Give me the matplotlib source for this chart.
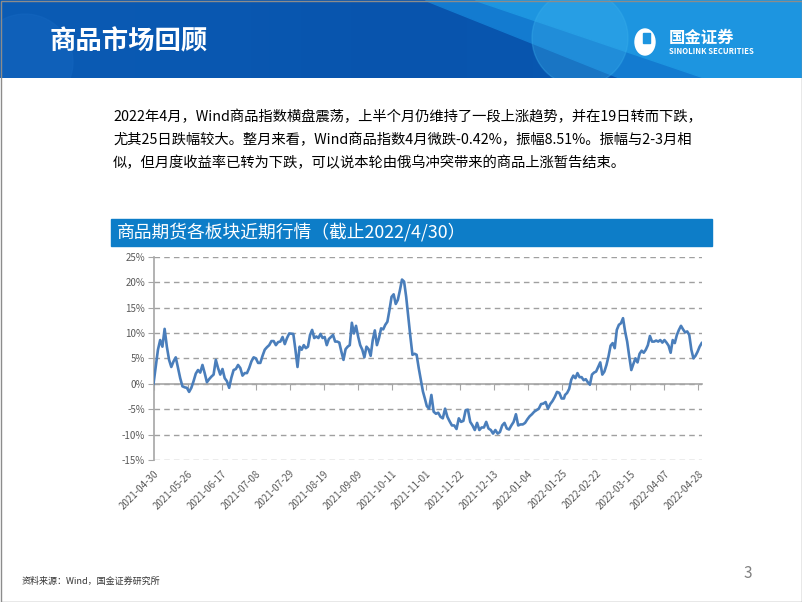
import numpy as np
import matplotlib.pyplot as plt
from matplotlib.patches import Rectangle, Polygon, Circle, Ellipse
from matplotlib.colors import LinearSegmentedColormap

plt.rcParams['font.family'] = ['Noto Sans CJK SC', 'DejaVu Sans']

# ---- data (Wind commodity index, cumulative return %)
tick_labels = ['2021-04-30', '2021-05-26', '2021-06-17', '2021-07-08', '2021-07-29',
               '2021-08-19', '2021-09-09', '2021-10-11', '2021-11-01', '2021-11-22',
               '2021-12-13', '2022-01-04', '2022-01-25', '2022-02-22', '2022-03-15',
               '2022-04-07', '2022-04-28']
tick_step = 15  # trading days between labels

# traced pieces of the line, each with the first/last trading day it covers
trace_1 = [0, 3.4, 6.7, 8.6, 7.3, 10.8, 7.3, 4.7, 3.3, 4.4, 5.2, 3.1, 1.1, -0.5, -0.7,
           -0.8, -1.6, -0.8, 0.5, 2.0, 2.7, 2.2, 3.7, 2.1, 0.3, 0.9, 1.4, 1.8, 4.7, 3.1,
           1.8, 2.9, 1.1, 0.5, -0.8, 1.2, 2.7, 2.9, 3.7, 3.1, 1.6, 2.1, 2.1, 3.1, 4.4,
           5.2, 5.0, 4.1, 4.1, 5.5, 6.7, 7.2, 7.6, 8.4, 8.4, 7.6, 8.2, 8.3, 9.2, 7.8,
           9.0, 9.9]
trace_2 = [9.8, 6.7, 3.3, 7.3, 6.7, 7.6, 7.0, 7.3, 9.6, 10.6, 9.0, 9.3, 9.0, 9.8, 9.0,
           9.2, 7.6, 8.8, 9.2, 9.6, 8.3, 8.3, 8.1, 6.3, 4.7, 6.8, 7.3, 7.6, 12.0, 9.9,
           11.4, 9.3, 7.6, 6.7, 5.2, 7.3, 6.8, 5.5, 8.6, 10.5, 7.6, 9.0, 10.9, 10.7,
           11.6, 12.2, 14.5, 17.1, 17.6, 15.7, 16.5, 18.4, 20.5, 20.1, 17.1, 13.2, 9.3,
           5.7, 5.9, 5.7, 3.1, 0.8, -1.5, -3.0]
trace_3 = [-4.4, -4.9, -2.2, -5.5, -5.9, -5.7, -6.5, -6.8, -4.9, -6.5, -7.4, -8.2, -8.2,
           -8.9, -6.8, -7.5, -7.3, -5.2, -5.1, -7.5, -8.2, -9.1, -7.7, -9.1, -8.6, -8.6,
           -7.5, -8.8, -9.1, -9.8, -9.1, -9.8, -9.5, -8.2, -7.7, -8.8, -9.0, -8.2, -7.5,
           -6.0, -8.2, -8.0, -8.0, -7.7, -7.0, -6.4, -6.0, -5.5, -5.2, -4.9, -4.0, -3.9,
           -3.6, -4.9, -4.0, -3.4, -2.6, -1.6, -1.8, -2.9, -2.9]
trace_4 = [-2.2, -1.8, -1.0, 0.8, 1.6, 1.1, 2.1, 1.3, 1.3, 0.7, 0.9, 0.3, -0.2, 1.8, 2.2,
           2.4, 3.3, 4.2, 1.8, 2.4, 3.7, 5.4, 7.5, 8.0, 7.0, 10.6, 11.6, 11.9, 12.9, 10.3,
           8.3, 5.4, 2.7, 3.9, 5.0, 4.2, 5.9, 6.5, 6.1, 6.7, 7.6, 9.4, 8.3, 8.3, 8.5,
           8.3, 8.6, 8.1, 8.6, 8.1, 7.5, 6.1, 8.6, 8.0, 9.6, 10.6, 11.4, 10.7, 10.1,
           10.3, 9.6, 6.7, 5.0, 5.5, 6.3, 7.3, 8.0]
trace_days = [(0, 59.8), (61.6, 119.6), (120.4, 180.8), (181.3, 241.5)]

y_ticks = [-15, -10, -5, 0, 5, 10, 15, 20, 25]

page_title = '商品市场回顾'
body_lines = ['2022年4月，Wind商品指数横盘震荡，上半个月仍维持了一段上涨趋势，并在19日转而下跌，',
              '尤其25日跌幅较大。整月来看，Wind商品指数4月微跌-0.42%，振幅8.51%。振幅与2-3月相',
              '似，但月度收益率已转为下跌，可以说本轮由俄乌冲突带来的商品上涨暂告结束。']
chart_title = '商品期货各板块近期行情（截止2022/4/30）'
source_note = '资料来源：Wind，国金证券研究所'

fig = plt.figure(figsize=(8.02, 6.02), dpi=100)
fig.patch.set_facecolor('white')

# ---- slide background / decorations in pixel coords
bg = fig.add_axes([0, 0, 1, 1], zorder=0)
bg.set_xlim(0, 802)
bg.set_ylim(602, 0)
grad = np.linspace(0, 1, 256).reshape(1, -1)
hdr_cmap = LinearSegmentedColormap.from_list('hdr', ['#0b5cb5', '#0854ad', '#0a5ab3'])
bg.imshow(grad, extent=[0, 802, 78, 0], cmap=hdr_cmap, aspect='auto', zorder=0)
bg.set_xlim(0, 802)
bg.set_ylim(602, 0)
hdr_clip = Rectangle((0, 0), 802, 78, transform=bg.transData)
shapes = [Circle((25, 62), 48, color='#1466bf', alpha=0.5, zorder=1),
          Polygon([(425, 0), (802, 0), (802, 78), (620, 78)], color='#137bd0', zorder=1),
          Polygon([(475, 0), (802, 0), (802, 78), (705, 78)], color='#1d95e0', zorder=1),
          Circle((580, 38), 48, color='#3ab0ec', alpha=0.35, zorder=2)]
for p in shapes:
    bg.add_patch(p)
    p.set_clip_path(hdr_clip)
bg.text(50, 42, page_title, color='white', fontsize=19, fontweight='bold',
        va='center', ha='left', zorder=5)
# logo
bg.add_patch(Ellipse((645, 42), 20, 26, color='white', zorder=5))
bg.add_patch(Rectangle((643, 33), 7, 10, color='#1d95e0', zorder=6))
bg.text(669, 38, '国金证券', color='white', fontsize=11.8, fontweight='bold',
        va='center', ha='left', zorder=5)
bg.text(669, 52, 'SINOLINK SECURITIES', color='white', fontsize=5.6, fontweight='bold',
        va='center', ha='left', zorder=5)

# body text
for i, line in enumerate(body_lines):
    bg.text(113, 117 + i * 23, line, fontsize=10.3, color='black', va='center', ha='left')

# chart title bar
bg.add_patch(Rectangle((111, 219), 601, 27, color='#0d7dc8', zorder=1))
bg.text(117, 232.5, chart_title, color='white', fontsize=12.8, va='center', ha='left', zorder=2)

# footer
bg.text(22, 581, source_note, fontsize=6.5, color='#333333', va='center', ha='left')
bg.text(748, 573, '3', fontsize=11, color='#808080', va='center', ha='center')
bg.add_patch(Rectangle((0.5, 0.5), 801, 601, fill=False, ec='#8c8c8c', lw=1, zorder=10))
bg.axis('off')

# ---- line chart
ax = fig.add_axes([153.5 / 802, 1 - 460 / 602, (701.7 - 153.5) / 802, (460 - 256.7) / 602],
                  zorder=3)
ax.patch.set_alpha(0)
days = np.concatenate([np.linspace(a, b, len(t)) for (a, b), t in
                       zip(trace_days, [trace_1, trace_2, trace_3, trace_4])])
values = np.concatenate([trace_1, trace_2, trace_3, trace_4])
ax.plot(days, values, color='#4a7ebb', lw=1.9, zorder=3, solid_joinstyle='round')

ax.set_xlim(0, 241.5)
ax.set_ylim(-15, 25)
ax.set_yticks(y_ticks)
ax.set_yticklabels([f'{v}%' for v in y_ticks])
ax.yaxis.grid(True, ls=(0, (4, 3)), color='#a0a0a0', lw=1)
ax.set_axisbelow(True)
for s in ['top', 'right']:
    ax.spines[s].set_visible(False)
ax.spines['left'].set_color('#a6a6a6')
ax.spines['left'].set_linewidth(1.2)
ax.spines['bottom'].set_position(('data', 0))
ax.spines['bottom'].set_color('#a6a6a6')
ax.spines['bottom'].set_linewidth(1.2)
ax.spines['bottom'].set_zorder(2)

tick_pos = np.arange(len(tick_labels)) * tick_step
ax.set_xticks(tick_pos)
ax.tick_params(axis='x', length=4, color='#a6a6a6', labelbottom=False)
ax.tick_params(axis='y', length=4, color='#a6a6a6', labelsize=7, labelcolor='#595959', pad=2)

sec = ax.secondary_xaxis(0)
sec.set_xticks(tick_pos)
sec.set_xticklabels(tick_labels, rotation=45, ha='right', va='top',
                    rotation_mode='anchor', fontsize=7, color='#595959')
sec.tick_params(length=0, pad=6)
sec.spines['bottom'].set_visible(False)

fig.savefig('out.png', dpi=100)
